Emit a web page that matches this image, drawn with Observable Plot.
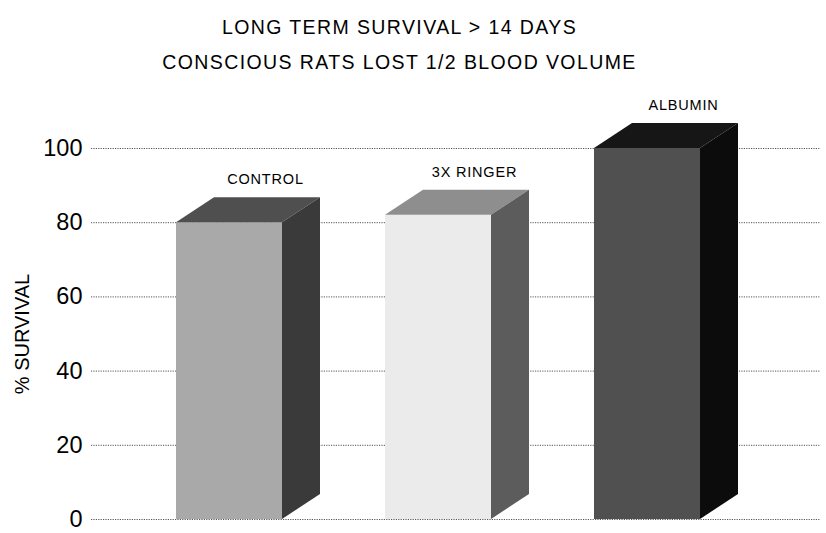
<!DOCTYPE html>
<html>
<head>
<meta charset="utf-8">
<script src="https://cdn.jsdelivr.net/npm/d3@7"></script>
<script src="https://cdn.jsdelivr.net/npm/@observablehq/plot@0.6"></script>
<style>
  body { margin: 0; background: white; font-family: "Liberation Sans", Arial, sans-serif; }
  #wrap { width: 826px; height: 533px; overflow: hidden; }
  .t { text-align: center; padding-right: 27px; font-size: 19.5px; line-height: 22px; letter-spacing: 1.4px; color: #000; }
  #t1 { padding-top: 16px; }
  #t2 { margin-top: 13px; margin-bottom: 7px; }
</style>
</head>
<body>
<div id="wrap">
  <div class="t" id="t1">LONG TERM SURVIVAL &gt; 14 DAYS</div>
  <div class="t" id="t2">CONSCIOUS RATS LOST 1/2 BLOOD VOLUME</div>
  <div id="chart"></div>
</div>
<script>
const categories = ["CONTROL", "3X RINGER", "ALBUMIN"];
const survival = [80, 82, 100];
const yTicks = [0, 20, 40, 60, 80, 100];
const yLabel = "% SURVIVAL";

// styles (kept separate from data)
const frontColors = ["#a9a9a9", "#ebebeb", "#505050"];
const topColors = ["#4f4f4f", "#8e8e8e", "#161616"];
const sideColors = ["#3a3a3a", "#5c5c5c", "#0c0c0c"];
const DX = 38, DY = -25;

const data = categories.map((c, i) => ({cat: c, value: survival[i]}));

const chart = Plot.plot({
  width: 826,
  height: 453,
  marginTop: 68,
  marginBottom: 14,
  marginLeft: 91,
  marginRight: 6,
  style: {fontFamily: "'Liberation Sans', Arial, sans-serif", background: "white", color: "#000"},
  x: {domain: categories, range: [175, 701], paddingInner: 0.495, paddingOuter: 0, axis: null},
  y: {domain: [0, 100], axis: null},
  marks: [
    Plot.gridY(yTicks, {stroke: "#555", strokeOpacity: 1, strokeWidth: 1, strokeDasharray: "1.2,1.2"}),
    Plot.axisY(yTicks, {tickSize: 0, tickPadding: 9, fontSize: 23.5, label: null}),
    Plot.text([yLabel], {frameAnchor: "left", textAnchor: "middle", dx: -69, rotate: -90, fontSize: 20, fill: "#000"}),
    Plot.barY(data, {
      x: "cat", y: "value", fill: "#999",
      render(index, scales, values, dimensions, context, next) {
        const g = next(index, scales, values, dimensions, context);
        const rects = Array.from(g.querySelectorAll("rect"));
        const ns = "http://www.w3.org/2000/svg";
        rects.forEach((r, k) => {
          const i = index[k];
          const x1 = +r.getAttribute("x"), y1 = +r.getAttribute("y");
          const w = +r.getAttribute("width"), h = +r.getAttribute("height");
          const x2 = x1 + w, y2 = y1 + h;
          r.setAttribute("fill", frontColors[i]);
          const top = document.createElementNS(ns, "polygon");
          top.setAttribute("points", `${x1},${y1} ${x1 + DX},${y1 + DY} ${x2 + DX},${y1 + DY} ${x2},${y1}`);
          top.setAttribute("fill", topColors[i]);
          const side = document.createElementNS(ns, "polygon");
          side.setAttribute("points", `${x2},${y1} ${x2 + DX},${y1 + DY} ${x2 + DX},${y2 + DY} ${x2},${y2}`);
          side.setAttribute("fill", sideColors[i]);
          g.appendChild(top);
          g.appendChild(side);
        });
        return g;
      }
    }),
    Plot.text(data, {
      x: "cat", y: "value", text: "cat", dx: 36, dy: -43, fontSize: 14.5, fill: "#000",
      render(index, scales, values, dimensions, context, next) {
        const g = next(index, scales, values, dimensions, context);
        g.setAttribute("letter-spacing", "0.8");
        return g;
      }
    })
  ]
});
document.getElementById("chart").appendChild(chart);
</script>
</body>
</html>
